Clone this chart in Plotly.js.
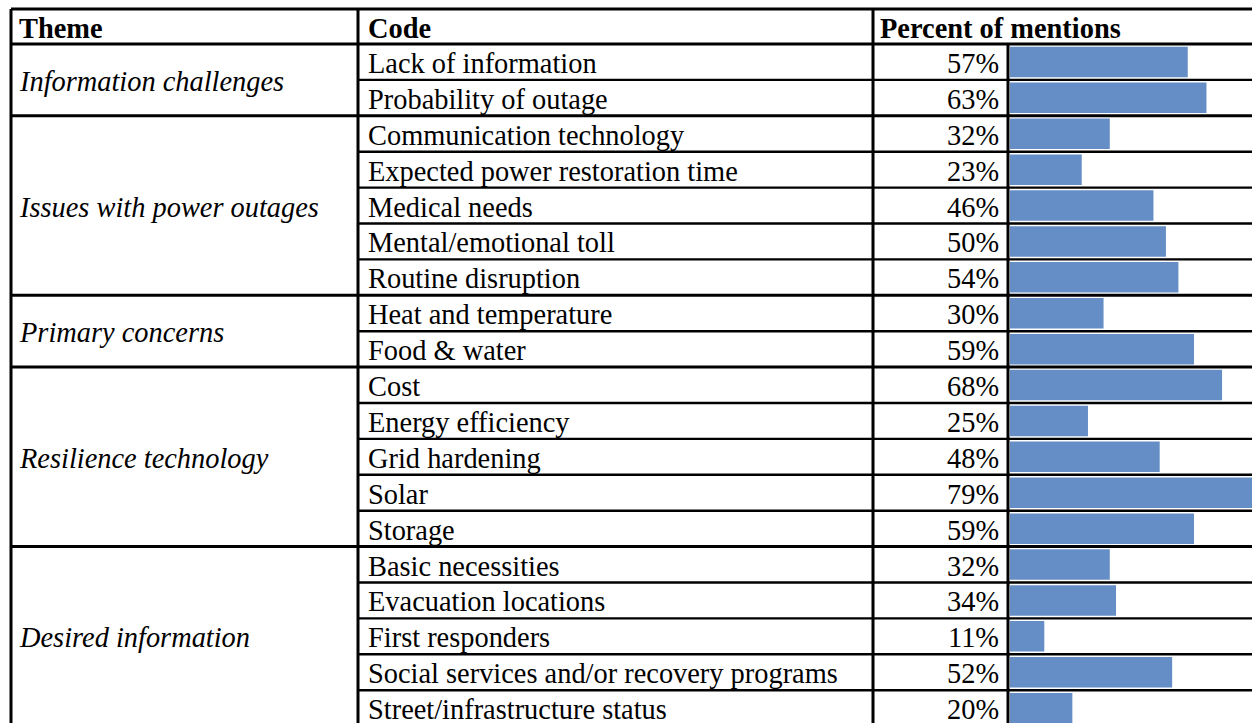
<!DOCTYPE html>
<html>
<head>
<meta charset="utf-8">
<script src="https://cdn.plot.ly/plotly-3.0.1.min.js"></script>
<style>html,body{margin:0;padding:0;background:#fff;}#chart{width:1252px;height:723px;}</style>
</head>
<body>
<div id="chart"></div>
<script>
// ---- data ----
const headers = ["Theme", "Code", "Percent of mentions"];
const themes = ["Information challenges", "Issues with power outages", "Primary concerns", "Resilience technology", "Desired information"];
const themeSizes = [2, 5, 2, 5, 5];
const codes = [
  "Lack of information", "Probability of outage",
  "Communication technology", "Expected power restoration time", "Medical needs", "Mental/emotional toll", "Routine disruption",
  "Heat and temperature", "Food & water",
  "Cost", "Energy efficiency", "Grid hardening", "Solar", "Storage",
  "Basic necessities", "Evacuation locations", "First responders", "Social services and/or recovery programs", "Street/infrastructure status"
];
const percents = [57, 63, 32, 23, 46, 50, 54, 30, 59, 68, 25, 48, 79, 59, 32, 34, 11, 52, 20];

// ---- layout constants (pixels / row units) ----
const W = 1252, H = 723;
const ROW_PX = 35.9, FIRST_ROW_TOP_PX = 44;
const pxToRow = p => 0.5 + (p - FIRST_ROW_TOP_PX) / ROW_PX;
const colLeft = 11, colCode = 358, colPct = 873, colBar = 1008, barStart = 1010;
const headerTop = pxToRow(9);
const tableBottom = 19.7;
const FONT = "Liberation Serif, 'Times New Roman', Times, serif";
const FS = 28.4;
const YS = -1.5;
const lineStyle = {color: "#000", width: 2.4};
const outerStyle = {color: "#000", width: 3};

const rowY = codes.map((_, i) => i + 1);

// bars
const barTrace = {
  type: "bar", orientation: "h",
  x: percents, y: rowY,
  xaxis: "x2", yaxis: "y",
  width: 0.85,
  marker: {color: "#658EC6", line: {width: 0}},
  hoverinfo: "skip"
};

const annotations = [];
const shapes = [];

// header texts
const headerX = [colLeft + 6, colCode + 8, colPct + 5];
headers.forEach((h, k) => annotations.push({
  xref: "x", yref: "y", x: headerX[k], y: (headerTop + 0.5) / 2, yshift: YS,
  text: "<b>" + h + "</b>", showarrow: false, xanchor: "left", yanchor: "middle",
  font: {family: FONT, size: FS, color: "#000"}
}));

// code and value texts
codes.forEach((c, i) => {
  annotations.push({
    xref: "x", yref: "y", x: colCode + 8, y: rowY[i], yshift: YS, text: c, showarrow: false,
    xanchor: "left", yanchor: "middle", font: {family: FONT, size: FS, color: "#000"}
  });
  annotations.push({
    xref: "x", yref: "y", x: colBar - 7, y: rowY[i], yshift: YS, text: percents[i] + "%", showarrow: false,
    xanchor: "right", yanchor: "middle", font: {family: FONT, size: FS, color: "#000"}
  });
});

// themes (merged cells)
let start = 0;
themes.forEach((t, g) => {
  const n = themeSizes[g];
  const top = start + 0.5, bottom = start + n + 0.5;
  annotations.push({
    xref: "x", yref: "y", x: colLeft + 6, y: (top + bottom) / 2, yshift: YS, text: "<i>" + t + "</i>", showarrow: false,
    xanchor: "left", yanchor: "middle", font: {family: FONT, size: FS, color: "#000"}
  });
  // group bottom border (full width)
  shapes.push({type: "line", xref: "x", yref: "y", x0: colLeft, x1: W + 5, y0: bottom, y1: bottom, line: outerStyle});
  // inner row borders (code column onwards)
  for (let r = 1; r < n; r++) {
    const yy = start + r + 0.5;
    shapes.push({type: "line", xref: "x", yref: "y", x0: colCode, x1: W + 5, y0: yy, y1: yy, line: lineStyle});
  }
  start += n;
});

// header borders
shapes.push({type: "line", xref: "x", yref: "y", x0: colLeft, x1: W + 5, y0: headerTop, y1: headerTop, line: outerStyle});
shapes.push({type: "line", xref: "x", yref: "y", x0: colLeft, x1: W + 5, y0: 0.5, y1: 0.5, line: outerStyle});
// vertical borders
[colLeft, colCode, colPct].forEach(x => shapes.push({
  type: "line", xref: "x", yref: "y", x0: x, x1: x, y0: headerTop, y1: tableBottom, line: outerStyle
}));
shapes.push({type: "line", xref: "x", yref: "y", x0: colBar, x1: colBar, y0: 0.5, y1: tableBottom, line: outerStyle});

const layout = {
  width: W, height: H,
  margin: {l: 0, r: 0, t: 0, b: 0, pad: 0},
  paper_bgcolor: "#fff", plot_bgcolor: "#fff",
  showlegend: false,
  xaxis: {domain: [0, 1], range: [0, W], visible: false, fixedrange: true},
  xaxis2: {domain: [barStart / W, 1], range: [0, 77.6], visible: false, fixedrange: true, anchor: "y"},
  yaxis: {domain: [0, 1], range: [pxToRow(H), pxToRow(0)], visible: false, fixedrange: true},
  annotations: annotations,
  shapes: shapes,
  hovermode: false
};

Plotly.newPlot("chart", [barTrace], layout, {displayModeBar: false, staticPlot: true});
</script>
</body>
</html>
